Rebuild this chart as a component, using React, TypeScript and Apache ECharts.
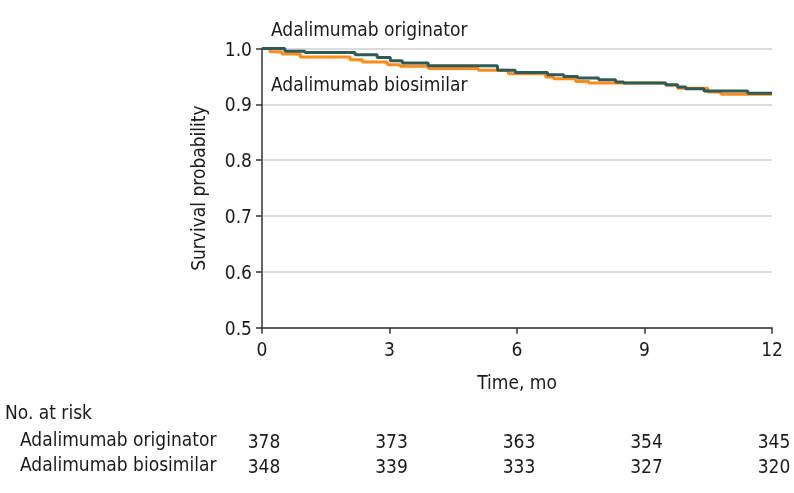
import React, { useEffect, useRef } from "react";
import * as echarts from "echarts";

const originatorTime = [0, 0.54, 1.01, 2.19, 2.71, 3.02, 3.3, 3.91, 5.54, 5.96, 6.72, 7.1, 7.43, 7.92, 8.32, 8.51, 9.5, 9.78, 9.97, 10.4, 11.43, 12];
const originatorSurv = [1.0, 0.995, 0.993, 0.989, 0.984, 0.978, 0.974, 0.969, 0.961, 0.957, 0.953, 0.95, 0.947, 0.944, 0.94, 0.938, 0.935, 0.931, 0.928, 0.924, 0.92, 0.92];

const biosimilarTime = [0, 0.19, 0.47, 0.9, 2.07, 2.36, 2.95, 3.25, 3.91, 5.09, 5.8, 6.67, 6.86, 7.38, 7.69, 9.5, 9.78, 10.49, 10.8, 12];
const biosimilarSurv = [1.0, 0.994, 0.99, 0.985, 0.98, 0.976, 0.971, 0.968, 0.964, 0.961, 0.955, 0.949, 0.946, 0.941, 0.938, 0.934, 0.929, 0.922, 0.918, 0.918];

const riskTimes = [0, 3, 6, 9, 12];
const originatorRisk = [378, 373, 363, 354, 345];
const biosimilarRisk = [348, 339, 333, 327, 320];
const groupNames = ["Adalimumab originator", "Adalimumab biosimilar"];

const FONT = "'DejaVu Sans Condensed', 'DejaVu Sans', sans-serif";
const FS = 19;
const TXT = "#1a1a1a";
const DARK = "#2e5b57";
const ORANGE = "#ff8c1a";

export default function App() {
  const ref = useRef<HTMLDivElement>(null);
  useEffect(() => {
    if (!ref.current) return;
    const chart = echarts.init(ref.current, undefined, { renderer: "svg" });
    const zip = (t: number[], s: number[]) => t.map((x, i) => [x, s[i]]);
    const riskData = (vals: number[], row: string) => riskTimes.map((t, i) => [t, row, vals[i]]);
    chart.setOption({
      animation: false,
      textStyle: { fontFamily: FONT },
      grid: [
        { left: 262, right: 22, top: 48.5, bottom: 165.3 },
        { left: 262, right: 22, top: 428.5, height: 50 },
      ],
      xAxis: [
        {
          gridIndex: 0,
          type: "value",
          min: 0,
          max: 12,
          interval: 3,
          name: "Time, mo",
          nameLocation: "middle",
          nameGap: 45,
          nameTextStyle: { fontSize: FS, color: TXT, fontFamily: FONT },
          axisLine: { show: true, lineStyle: { color: "#333", width: 1.5 } },
          axisTick: { show: true, length: 6, lineStyle: { color: "#333", width: 1.5 } },
          axisLabel: { fontSize: FS, color: TXT, margin: 12, fontFamily: FONT },
          splitLine: { show: false },
        },
        {
          gridIndex: 1,
          type: "value",
          min: 0,
          max: 12,
          show: false,
        },
      ],
      yAxis: [
        {
          gridIndex: 0,
          type: "value",
          min: 0.5,
          max: 1.0,
          interval: 0.1,
          name: "Survival probability",
          nameLocation: "middle",
          nameGap: 55,
          nameTextStyle: { fontSize: FS, color: TXT, fontFamily: FONT },
          axisLine: { show: true, lineStyle: { color: "#333", width: 1.5 } },
          axisTick: { show: true, length: 6, lineStyle: { color: "#333", width: 1.5 } },
          axisLabel: {
            fontSize: FS,
            color: TXT,
            margin: 10,
            fontFamily: FONT,
            formatter: (v: number) => v.toFixed(1),
          },
          splitLine: { show: true, lineStyle: { color: "#dcdcdc", width: 2 } },
        },
        {
          gridIndex: 1,
          type: "category",
          data: groupNames,
          inverse: true,
          show: false,
        },
      ],
      series: [
        {
          name: "Adalimumab biosimilar",
          type: "line",
          step: "end",
          xAxisIndex: 0,
          yAxisIndex: 0,
          data: zip(biosimilarTime, biosimilarSurv),
          symbol: "none",
          lineStyle: { color: ORANGE, width: 3 },
          z: 2,
        },
        {
          name: "Adalimumab originator",
          type: "line",
          step: "end",
          xAxisIndex: 0,
          yAxisIndex: 0,
          data: zip(originatorTime, originatorSurv),
          symbol: "none",
          lineStyle: { color: DARK, width: 3 },
          z: 3,
        },
        {
          type: "scatter",
          xAxisIndex: 1,
          yAxisIndex: 1,
          symbolSize: 0,
          itemStyle: { opacity: 1 },
          data: [...riskData(originatorRisk, groupNames[0]), ...riskData(biosimilarRisk, groupNames[1])],
          label: {
            show: true,
            position: "inside",
            offset: [2, 0],
            formatter: (p: any) => String(p.value[2]),
            fontSize: FS,
            color: TXT,
            opacity: 1,
            fontFamily: FONT,
          },
          silent: true,
        },
      ],
      graphic: [
        {
          type: "text",
          left: 271,
          top: 19,
          style: { text: groupNames[0], fontSize: FS, fill: TXT, fontFamily: FONT },
        },
        {
          type: "text",
          left: 271,
          top: 74,
          style: { text: groupNames[1], fontSize: FS, fill: TXT, fontFamily: FONT },
        },
        {
          type: "text",
          left: 5,
          top: 402,
          style: { text: "No. at risk", fontSize: FS, fill: TXT, fontFamily: FONT },
        },
        {
          type: "text",
          left: 20,
          top: 429,
          style: { text: groupNames[0], fontSize: FS, fill: TXT, fontFamily: FONT },
        },
        {
          type: "text",
          left: 20,
          top: 454,
          style: { text: groupNames[1], fontSize: FS, fill: TXT, fontFamily: FONT },
        },
      ],
    });
    return () => chart.dispose();
  }, []);
  return <div ref={ref} style={{ position: "fixed", left: 0, top: 0, width: 794, height: 493 }} />;
}
